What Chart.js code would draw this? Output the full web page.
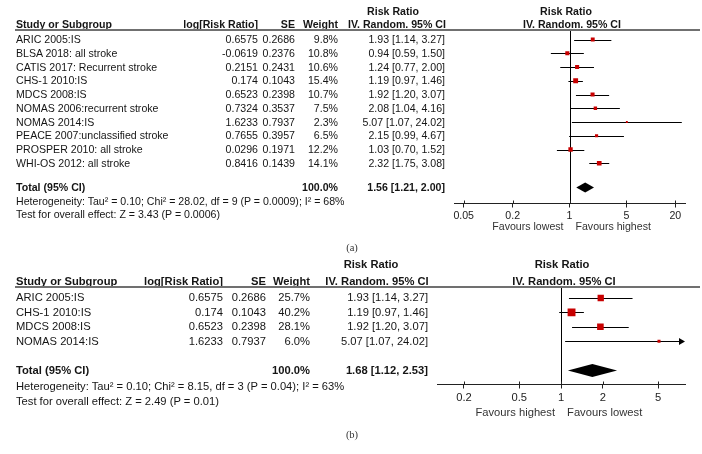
<!DOCTYPE html>
<html>
<head>
<meta charset="utf-8">
<script src="https://cdn.jsdelivr.net/npm/chart.js@4.4.0/dist/chart.umd.min.js"></script>
<style>
    html, body { margin: 0; padding: 0; background: #fff; }
    #page {
        position: relative; width: 702px; height: 454px; overflow: hidden;
        font-family: "Liberation Sans", Arial, sans-serif; color: #151515;
    }
    #page canvas { position: absolute; left: 0; top: 0; }
    .t { position: absolute; white-space: nowrap; line-height: 1; }
    .cap { font-family: "Liberation Serif", "Times New Roman", serif; color: #333; }
    .rule { position: absolute; height: 2px; background: #707070; }
</style>
</head>
<body>
<div id="page">
    <canvas id="chartA" width="702" height="454"></canvas>
    <canvas id="chartB" width="702" height="454"></canvas>
</div>
<script>
// ------------------------------------------------------------
// Données — (a) toutes les études
// ------------------------------------------------------------
const studiesA = [
    "ARIC 2005:IS", "BLSA 2018: all stroke", "CATIS 2017: Recurrent stroke",
    "CHS-1 2010:IS", "MDCS 2008:IS", "NOMAS 2006:recurrent stroke",
    "NOMAS 2014:IS", "PEACE 2007:unclassified stroke",
    "PROSPER 2010: all stroke", "WHI-OS 2012: all stroke"
];
const logRrA  = [0.6575, -0.0619, 0.2151, 0.174, 0.6523, 0.7324, 1.6233, 0.7655, 0.0296, 0.8416];
const seA     = [0.2686, 0.2376, 0.2431, 0.1043, 0.2398, 0.3537, 0.7937, 0.3957, 0.1971, 0.1439];
const weightA = [9.8, 10.8, 10.6, 15.4, 10.7, 7.5, 2.3, 6.5, 12.2, 14.1];
const rrA     = [1.93, 0.94, 1.24, 1.19, 1.92, 2.08, 5.07, 2.15, 1.03, 2.32];
const lowA    = [1.14, 0.59, 0.77, 0.97, 1.20, 1.04, 1.07, 0.99, 0.70, 1.75];
const highA   = [3.27, 1.50, 2.00, 1.46, 3.07, 4.16, 24.02, 4.67, 1.52, 3.08];
const totalA  = [1.56, 1.21, 2.00];            // RR, borne basse, borne haute
const totalWeightA = 100.0;
const hetA    = "Heterogeneity: Tau² = 0.10; Chi² = 28.02, df = 9 (P = 0.0009); I² = 68%";
const testA   = "Test for overall effect: Z = 3.43 (P = 0.0006)";
const ticksA  = [0.05, 0.2, 1, 5, 20];
const rangeA  = [0.038, 26.3];
const favoursA = ["Favours lowest", "Favours highest"];

// ------------------------------------------------------------
// Données — (b) AVC ischémiques
// ------------------------------------------------------------
const studiesB = ["ARIC 2005:IS", "CHS-1 2010:IS", "MDCS 2008:IS", "NOMAS 2014:IS"];
const logRrB  = [0.6575, 0.174, 0.6523, 1.6233];
const seB     = [0.2686, 0.1043, 0.2398, 0.7937];
const weightB = [25.7, 40.2, 28.1, 6.0];
const rrB     = [1.93, 1.19, 1.92, 5.07];
const lowB    = [1.14, 0.97, 1.20, 1.07];
const highB   = [3.27, 1.46, 3.07, 24.02];
const totalB  = [1.68, 1.12, 2.53];
const totalWeightB = 100.0;
const hetB    = "Heterogeneity: Tau² = 0.10; Chi² = 8.15, df = 3 (P = 0.04); I² = 63%";
const testB   = "Test for overall effect: Z = 2.49 (P = 0.01)";
const ticksB  = [0.2, 0.5, 1, 2, 5];
const rangeB  = [0.128, 7.8];
const favoursB = ["Favours highest", "Favours lowest"];

// ------------------------------------------------------------
// Mise en page (pixels) — séparée des données
// ------------------------------------------------------------
const PAGE_W = 702, PAGE_H = 454;
const AXIS_BOX = 30;          // hauteur réservée à l'axe x dans Chart.js
const SQ = 0.88;              // rayon du carré = SQ * sqrt(poids)

const layoutA = {
    fs: 10.6, top: 30, axisY: 203.5, axL: 454, axR: 685,
    row0: 39.5, rowH: 13.75, totalY: 187.5, head1: 11, head2: 24.5,
    hetY: 201, testY: 214, capY: 248, cap: "(a)",
    colStudy: 16, colLog: 258, colSe: 295, colW: 338, colRr: 445,
    rrHead1: 393, rrHead2: 397, plotHead1: 566, plotHead2: 572,
    tickPad: 2, favY: 227.5, diamondH: 5
};
const layoutB = {
    fs: 11.2, top: 287, axisY: 384.5, axL: 437, axR: 685,
    row0: 298, rowH: 14.4, totalY: 370.5, head1: 265, head2: 281.5,
    hetY: 386.5, testY: 401.5, capY: 435, cap: "(b)",
    colStudy: 16, colLog: 223, colSe: 266, colW: 310, colRr: 428,
    rrHead1: 371, rrHead2: 377, plotHead1: 562, plotHead2: 564,
    tickPad: 3, favY: 412.5, diamondH: 6.5
};

const page = document.getElementById("page");

function put(txt, x, y, fs, align, bold, cls) {
    const d = document.createElement("div");
    d.className = "t" + (cls ? " " + cls : "");
    d.textContent = txt;
    d.style.fontSize = fs + "px";
    d.style.top = (y - fs * 0.5) + "px";
    if (bold) d.style.fontWeight = "bold";
    if (align === "right") d.style.right = (PAGE_W - x) + "px";
    else if (align === "center") { d.style.left = x + "px"; d.style.transform = "translateX(-50%)"; }
    else d.style.left = x + "px";
    page.appendChild(d);
}

function rule(x1, x2, y) {
    const d = document.createElement("div");
    d.className = "rule";
    d.style.left = x1 + "px";
    d.style.width = (x2 - x1) + "px";
    d.style.top = (y - 1) + "px";
    page.appendChild(d);
}

const ci = (r, l, h) => r.toFixed(2) + " [" + l.toFixed(2) + ", " + h.toFixed(2) + "]";

// Tableau de gauche (texte HTML)
function drawTable(L, d) {
    const fs = L.fs;
    put("Risk Ratio", L.rrHead1, L.head1, fs, "center", true);
    put("Risk Ratio", L.plotHead1, L.head1, fs, "center", true);
    put("Study or Subgroup", L.colStudy, L.head2, fs, "left", true);
    put("log[Risk Ratio]", L.colLog, L.head2, fs, "right", true);
    put("SE", L.colSe, L.head2, fs, "right", true);
    put("Weight", L.colW, L.head2, fs, "right", true);
    put("IV. Random. 95% CI", L.rrHead2, L.head2, fs, "center", true);
    put("IV. Random. 95% CI", L.plotHead2, L.head2, fs, "center", true);
    rule(15, 700, L.top);

    d.studies.forEach((s, i) => {
        const y = L.row0 + i * L.rowH;
        put(s, L.colStudy, y, fs, "left");
        put(String(d.logRr[i]), L.colLog, y, fs, "right");
        put(String(d.se[i]), L.colSe, y, fs, "right");
        put(d.weight[i].toFixed(1) + "%", L.colW, y, fs, "right");
        put(ci(d.rr[i], d.low[i], d.high[i]), L.colRr, y, fs, "right");
    });
    put("Total (95% CI)", L.colStudy, L.totalY, fs, "left", true);
    put(d.totalWeight.toFixed(1) + "%", L.colW, L.totalY, fs, "right", true);
    put(ci(d.total[0], d.total[1], d.total[2]), L.colRr, L.totalY, fs, "right", true);
    put(d.het, L.colStudy, L.hetY, fs, "left");
    put(d.test, L.colStudy, L.testY, fs, "left");
    put(L.cap, 352, L.capY, 10.5, "center", false, "cap");
}

// Traits d'IC, ligne de non-effet, losange, graduations et libellés "Favours"
function forestPlugin(L, d) {
    return {
        id: "forest",
        beforeDatasetsDraw(chart) {
            const { ctx, chartArea: a, scales: { x, y } } = chart;
            ctx.save();
            ctx.strokeStyle = "#000";
            ctx.fillStyle = "#000";
            ctx.lineWidth = 1;

            const x1 = Math.round(x.getPixelForValue(1)) + 0.5;
            ctx.beginPath();
            ctx.moveTo(x1, a.top);
            ctx.lineTo(x1, a.bottom);
            ctx.stroke();

            d.low.forEach((lo, i) => {
                const yy = Math.round(y.getPixelForValue(i)) + 0.5;
                const xl = Math.max(x.getPixelForValue(lo), a.left);
                const over = d.high[i] > x.max;
                const xr = over ? a.right - 5 : x.getPixelForValue(d.high[i]);
                ctx.beginPath();
                ctx.moveTo(xl, yy);
                ctx.lineTo(xr, yy);
                ctx.stroke();
                if (over) {
                    ctx.beginPath();
                    ctx.moveTo(a.right - 6, yy - 3.5);
                    ctx.lineTo(a.right, yy);
                    ctx.lineTo(a.right - 6, yy + 3.5);
                    ctx.closePath();
                    ctx.fill();
                }
            });

            const ty = y.getPixelForValue(d.totalIdx);
            const [tr, tl, th] = d.total;
            ctx.beginPath();
            ctx.moveTo(x.getPixelForValue(tl), ty);
            ctx.lineTo(x.getPixelForValue(tr), ty - L.diamondH);
            ctx.lineTo(x.getPixelForValue(th), ty);
            ctx.lineTo(x.getPixelForValue(tr), ty + L.diamondH);
            ctx.closePath();
            ctx.fill();
            ctx.restore();
        },
        afterDraw(chart) {
            const { ctx, scales: { x } } = chart;
            ctx.save();
            ctx.strokeStyle = "#222";
            ctx.lineWidth = 1;
            d.ticks.forEach(v => {
                const px = Math.round(x.getPixelForValue(v)) + 0.5;
                ctx.beginPath();
                ctx.moveTo(px, x.top - 3);
                ctx.lineTo(px, x.top);
                ctx.stroke();
            });
            const x1 = x.getPixelForValue(1);
            ctx.fillStyle = "#333";
            ctx.font = L.fs + "px 'Liberation Sans', Arial, sans-serif";
            ctx.textBaseline = "middle";
            ctx.textAlign = "right";
            ctx.fillText(d.favours[0], x1 - 6, L.favY);
            ctx.textAlign = "left";
            ctx.fillText(d.favours[1], x1 + 6, L.favY);
            ctx.restore();
        }
    };
}

function drawForest(canvasId, L, d) {
    const yMin = (L.top - L.row0) / L.rowH;
    const yMax = (L.axisY - L.row0) / L.rowH;
    d.totalIdx = (L.totalY - L.row0) / L.rowH;

    return new Chart(document.getElementById(canvasId), {
        type: "scatter",
        data: {
            datasets: [{
                data: d.rr.map((v, i) => ({ x: v, y: i })),
                pointStyle: "rect",
                pointRadius: d.weight.map(w => SQ * Math.sqrt(w)),
                pointHoverRadius: d.weight.map(w => SQ * Math.sqrt(w)),
                backgroundColor: "#c80000",
                borderWidth: 0
            }]
        },
        options: {
            responsive: false,
            animation: false,
            devicePixelRatio: 1,
            layout: {
                padding: {
                    left: L.axL, right: PAGE_W - L.axR,
                    top: L.top, bottom: PAGE_H - L.axisY - AXIS_BOX
                }
            },
            plugins: { legend: { display: false }, tooltip: { enabled: false } },
            scales: {
                x: {
                    type: "logarithmic",
                    min: d.range[0], max: d.range[1],
                    bounds: "data",
                    afterBuildTicks: s => { s.ticks = d.ticks.map(v => ({ value: v })); },
                    afterFit: s => { s.height = AXIS_BOX; },
                    border: { display: true, color: "#222", width: 1 },
                    grid: { drawOnChartArea: false, drawTicks: true, tickLength: 4, color: "#222" },
                    ticks: {
                        autoSkip: false, maxRotation: 0, padding: L.tickPad,
                        color: "#222",
                        font: { family: "'Liberation Sans', Arial, sans-serif", size: L.fs },
                        callback: v => String(v)
                    }
                },
                y: { type: "linear", display: false, reverse: true, min: yMin, max: yMax }
            }
        },
        plugins: [forestPlugin(L, d)]
    });
}

const panelA = {
    studies: studiesA, logRr: logRrA, se: seA, weight: weightA,
    rr: rrA, low: lowA, high: highA, total: totalA, totalWeight: totalWeightA,
    het: hetA, test: testA, ticks: ticksA, range: rangeA, favours: favoursA
};
const panelB = {
    studies: studiesB, logRr: logRrB, se: seB, weight: weightB,
    rr: rrB, low: lowB, high: highB, total: totalB, totalWeight: totalWeightB,
    het: hetB, test: testB, ticks: ticksB, range: rangeB, favours: favoursB
};

drawTable(layoutA, panelA);
drawTable(layoutB, panelB);
drawForest("chartA", layoutA, panelA);
drawForest("chartB", layoutB, panelB);
</script>
</body>
</html>
